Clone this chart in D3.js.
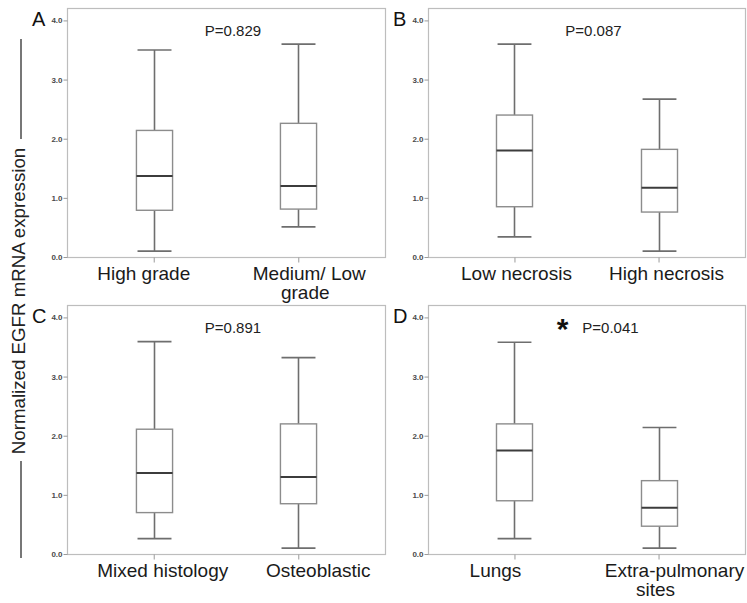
<!DOCTYPE html>
<html>
<head>
<meta charset="utf-8">
<script src="https://cdn.jsdelivr.net/npm/d3@7"></script>
<style>
  html, body { margin: 0; padding: 0; background: #fff; }
  svg { display: block; font-family: "Liberation Sans", Arial, sans-serif; }
</style>
</head>
<body>
<svg id="chart" width="747" height="603"></svg>
<script>
// Panel letters and test p-values
const panelLetters = ["A", "B", "C", "D"];
const pLabels = ["P=0.829", "P=0.087", "P=0.891", "P=0.041"];
const significant = [false, false, false, true];

// Group names per panel (each name split into its text lines)
const groupsA = [["High grade"], ["Medium/ Low", "grade"]];
const groupsB = [["Low necrosis"], ["High necrosis"]];
const groupsC = [["Mixed histology"], ["Osteoblastic"]];
const groupsD = [["Lungs"], ["Extra-pulmonary", "sites"]];

// Box-plot summaries: [first group, second group]
const whiskerLowA = [0.10, 0.51], q1A = [0.79, 0.81], medianA = [1.37, 1.20], q3A = [2.14, 2.26], whiskerHighA = [3.50, 3.60];
const whiskerLowB = [0.34, 0.10], q1B = [0.85, 0.76], medianB = [1.80, 1.17], q3B = [2.40, 1.82], whiskerHighB = [3.60, 2.67];
const whiskerLowC = [0.26, 0.10], q1C = [0.70, 0.85], medianC = [1.37, 1.30], q3C = [2.11, 2.20], whiskerHighC = [3.59, 3.32];
const whiskerLowD = [0.26, 0.10], q1D = [0.90, 0.47], medianD = [1.75, 0.78], q3D = [2.20, 1.24], whiskerHighD = [3.58, 2.14];

const yTicks = [0, 1, 2, 3, 4];
const yTitle = "Normalized EGFR mRNA expression";

const panels = [
  { groups: groupsA, lo: whiskerLowA, q1: q1A, med: medianA, q3: q3A, hi: whiskerHighA },
  { groups: groupsB, lo: whiskerLowB, q1: q1B, med: medianB, q3: q3B, hi: whiskerHighB },
  { groups: groupsC, lo: whiskerLowC, q1: q1C, med: medianC, q3: q3C, hi: whiskerHighC },
  { groups: groupsD, lo: whiskerLowD, q1: q1D, med: medianD, q3: q3D, hi: whiskerHighD }
];

// Layout: horizontal nudge (px) of each label line from its tick
const labelNudge = [
  [[-10], [11, 7]],
  [[2], [8]],
  [[9], [20]],
  [[-19], [16, -3]]
];

const svg = d3.select("#chart");

// Grid layout of the four plotting frames
const colX = [[67, 385], [428, 745]];
const rowY = [[8, 257], [305, 554]];

const frameColor = "#bdbdbd";
const boxColor = "#8c8c8c";
const whiskerColor = "#6e6e6e";
const medianColor = "#3c3c3c";

panels.forEach((p, i) => {
  const [x0, x1] = colX[i % 2];
  const [y0, y1] = rowY[Math.floor(i / 2)];
  const g = svg.append("g");

  const y = d3.scaleLinear().domain([0, 4.21]).range([y1, y0]);
  const names = p.groups.map(d => d.join(" "));
  const x = d3.scalePoint().domain(names).range([x0, x1]).padding(0.6);
  const step = x.step();
  const boxW = step * 0.25;
  const capW = boxW * 0.47;

  // frame
  g.append("rect")
    .attr("x", x0 + 0.5).attr("y", y0 + 0.5)
    .attr("width", x1 - x0).attr("height", y1 - y0)
    .attr("fill", "none").attr("stroke", frameColor).attr("stroke-width", 1.2);

  // y axis
  const yAxis = d3.axisLeft(y).tickValues(yTicks).tickFormat(d3.format(".1f"))
    .tickSize(4).tickPadding(1);
  const ya = g.append("g").attr("transform", `translate(${x0 + 0.5},0)`).call(yAxis);
  ya.select(".domain").remove();
  ya.selectAll(".tick line").attr("stroke", "#9a9a9a");
  ya.selectAll(".tick text")
    .attr("fill", "#4a4a4a").style("font-size", "8px").style("font-weight", "bold")
    .style("font-family", "'Liberation Sans', Arial, sans-serif");

  // x axis ticks and group labels
  const xa = g.append("g").attr("transform", `translate(0,${y1 + 0.5})`)
    .call(d3.axisBottom(x).tickSize(5).tickFormat(""));
  xa.select(".domain").remove();
  xa.selectAll(".tick line").attr("stroke", "#9a9a9a");

  p.groups.forEach((lines, j) => {
    const t = g.append("text")
      .attr("y", y1 + 23)
      .attr("text-anchor", "middle")
      .attr("fill", "#1a1a1a")
      .style("font-size", "19px");
    lines.forEach((ln, k) => {
      t.append("tspan")
        .attr("x", x(names[j]) + labelNudge[i][j][k])
        .attr("dy", k === 0 ? 0 : 19)
        .text(ln);
    });
  });

  // boxes
  names.forEach((n, j) => {
    const cx = Math.round(x(n)) + 0.5;
    // whiskers
    g.append("line").attr("x1", cx).attr("x2", cx)
      .attr("y1", y(p.hi[j])).attr("y2", y(p.q3[j]))
      .attr("stroke", whiskerColor).attr("stroke-width", 1.6);
    g.append("line").attr("x1", cx).attr("x2", cx)
      .attr("y1", y(p.q1[j])).attr("y2", y(p.lo[j]))
      .attr("stroke", whiskerColor).attr("stroke-width", 1.6);
    [p.hi[j], p.lo[j]].forEach(v => {
      g.append("line").attr("x1", cx - capW).attr("x2", cx + capW)
        .attr("y1", y(v)).attr("y2", y(v))
        .attr("stroke", whiskerColor).attr("stroke-width", 1.6);
    });
    // box
    g.append("rect")
      .attr("x", cx - boxW / 2).attr("y", y(p.q3[j]))
      .attr("width", boxW).attr("height", y(p.q1[j]) - y(p.q3[j]))
      .attr("fill", "#fff").attr("stroke", boxColor).attr("stroke-width", 1.4);
    // median
    g.append("line").attr("x1", cx - boxW / 2).attr("x2", cx + boxW / 2)
      .attr("y1", y(p.med[j])).attr("y2", y(p.med[j]))
      .attr("stroke", medianColor).attr("stroke-width", 2);
  });

  // panel letter
  g.append("text")
    .attr("x", x0 - 35).attr("y", y0 + 18)
    .attr("fill", "#111").style("font-size", "20px")
    .text(panelLetters[i]);

  // p-value
  const midX = (x0 + x1) / 2;
  const pX = significant[i] ? midX + 24 : midX + 7;
  g.append("text")
    .attr("x", pX).attr("y", y0 + 28)
    .attr("text-anchor", "middle")
    .attr("fill", "#222").style("font-size", "15px")
    .text(pLabels[i]);
  if (significant[i]) {
    g.append("text")
      .attr("x", midX - 24).attr("y", y0 + 34)
      .attr("text-anchor", "middle")
      .attr("fill", "#111").style("font-size", "30px").style("font-weight", "bold")
      .text("*");
  }
});

// shared y title with rules above and below it
const titleCY = 301;
svg.append("text")
  .attr("transform", `translate(25,${titleCY}) rotate(-90)`)
  .attr("text-anchor", "middle")
  .attr("fill", "#222")
  .style("font-size", "18.7px")
  .text(yTitle);
svg.append("line").attr("x1", 21).attr("x2", 21).attr("y1", 39).attr("y2", 139)
  .attr("stroke", "#555").attr("stroke-width", 1.6);
svg.append("line").attr("x1", 21).attr("x2", 21).attr("y1", 461).attr("y2", 558)
  .attr("stroke", "#555").attr("stroke-width", 1.6);
</script>
</body>
</html>
